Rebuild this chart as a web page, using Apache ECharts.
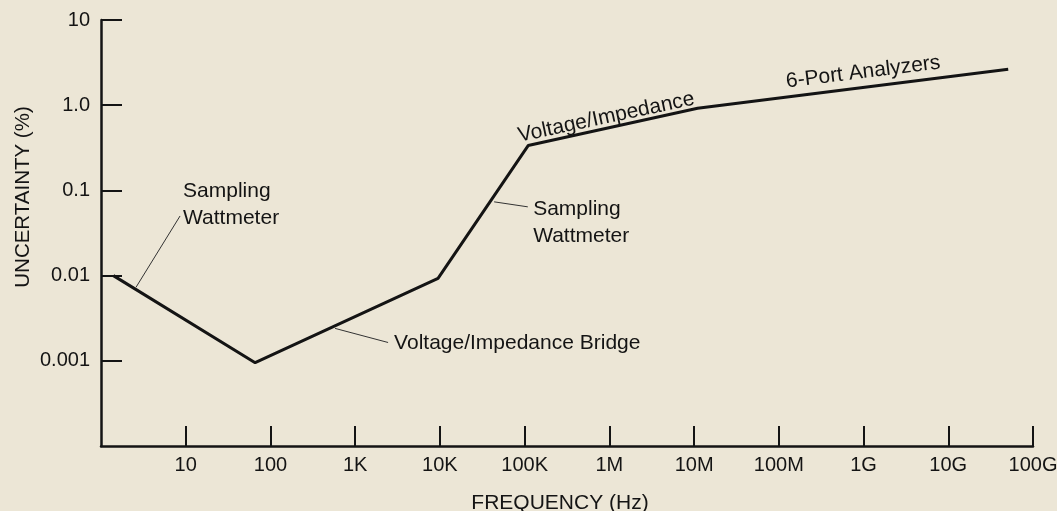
<!DOCTYPE html>
<html>
<head>
<meta charset="utf-8">
<title>Uncertainty vs Frequency</title>
<script src="https://cdn.jsdelivr.net/npm/echarts@6/dist/echarts.min.js"></script>
<style>
  html, body { margin: 0; padding: 0; background: #ece6d6; }
  #chart { width: 1057px; height: 511px; }
</style>
</head>
<body>
<div id="chart"></div>
<script>
// curve break points (Hz, %)
var freq = [1.4, 66, 9500, 1.1e5, 1.1e7, 5.1e10];
var uncertainty = [0.01, 0.00095, 0.0093, 0.336, 0.92, 2.64];

// tick labels
var xTickValues = [10, 100, 1e3, 1e4, 1e5, 1e6, 1e7, 1e8, 1e9, 1e10, 1e11];
var xTickLabels = ['10', '100', '1K', '10K', '100K', '1M', '10M', '100M', '1G', '10G', '100G'];
var yTickValues = [0.001, 0.01, 0.1, 1, 10];
var yTickLabels = ['0.001', '0.01', '0.1', '1.0', '10'];

// annotation texts
var noteTexts = ['Sampling\nWattmeter', 'Voltage/Impedance Bridge', 'Sampling\nWattmeter', 'Voltage/Impedance', '6-Port Analyzers'];

var ink = '#141414';
var font = '"Liberation Sans", Arial, Helvetica, sans-serif';

function lookup(values, labels, v) {
  for (var i = 0; i < values.length; i++) {
    if (Math.abs(Math.log10(v) - Math.log10(values[i])) < 1e-6) return labels[i];
  }
  return '';
}

var chart = echarts.init(document.getElementById('chart'));

var option = {
  animation: false,
  backgroundColor: '#ece6d6',
  grid: { left: 101, right: 24, top: 20, bottom: 65, outerBoundsMode: 'none' },
  xAxis: {
    type: 'log',
    logBase: 10,
    min: 1,
    max: 1e11,
    interval: 1,
    name: 'FREQUENCY (Hz)',
    nameLocation: 'middle',
    nameGap: 47,
    nameTextStyle: { color: ink, fontSize: 21, fontFamily: font, padding: [0, 14, 0, 0] },
    axisLine: { lineStyle: { color: ink, width: 2.5 } },
    axisTick: { inside: true, length: 20, lineStyle: { color: ink, width: 2 } },
    axisLabel: {
      color: ink, fontSize: 20, fontFamily: font, margin: 9,
      interval: 0,
      showMinLabel: false, showMaxLabel: true,
      formatter: function (v) { return lookup(xTickValues, xTickLabels, v); }
    },
    splitLine: { show: false }
  },
  yAxis: {
    type: 'log',
    logBase: 10,
    min: 0.0001,
    max: 10,
    interval: 1,
    axisLine: { show: true, lineStyle: { color: ink, width: 2.5 } },
    axisTick: { show: true, inside: true, length: 21, lineStyle: { color: ink, width: 2 } },
    axisLabel: {
      color: ink, fontSize: 20, fontFamily: font, margin: 11,
      showMinLabel: false,
      formatter: function (v) { return lookup(yTickValues, yTickLabels, v); }
    },
    splitLine: { show: false }
  },
  graphic: [{
    type: 'text',
    x: 23,
    y: 197,
    rotation: Math.PI / 2,
    style: {
      text: 'UNCERTAINTY (%)',
      fill: ink,
      font: '20.5px ' + font,
      align: 'center',
      verticalAlign: 'middle'
    }
  }],
  series: [
    {
      name: 'uncertainty',
      type: 'line',
      data: freq.map(function (f, i) { return [f, uncertainty[i]]; }),
      showSymbol: false,
      lineStyle: { color: ink, width: 3 },
      silent: true
    },
    {
      name: 'notes',
      type: 'scatter',
      symbolSize: 0,
      silent: true,
      itemStyle: { opacity: 1, color: ink },
      label: {
        show: true,
        color: ink,
        opacity: 1,
        fontSize: 21,
        fontFamily: font,
        lineHeight: 27,
        formatter: function (p) { return p.data.text; }
      },
      data: [
        { value: [9.3, 0.0686], text: noteTexts[0], label: { position: 'right', distance: 0, align: 'left', verticalAlign: 'middle' } },
        { value: [2880, 0.0016], text: noteTexts[1], label: { position: 'right', distance: 0, align: 'left', verticalAlign: 'middle' } },
        { value: [1.26e5, 0.042], text: noteTexts[2], label: { position: 'right', distance: 0, align: 'left', verticalAlign: 'middle' } },
        { value: [9.17e5, 0.718], text: noteTexts[3], label: { position: 'inside', align: 'center', verticalAlign: 'middle', rotate: 12 } },
        { value: [9.9e8, 2.44], text: noteTexts[4], label: { position: 'inside', align: 'center', verticalAlign: 'middle', rotate: 7 } }
      ],
      markLine: {
        silent: true,
        symbol: ['none', 'none'],
        label: { show: false },
        lineStyle: { color: '#333', width: 1, type: 'solid', opacity: 1 },
        data: [
          [{ coord: [2.59, 0.0073] }, { coord: [8.57, 0.0501] }],
          [{ coord: [43650, 0.0734] }, { coord: [1.09e5, 0.0641] }],
          [{ coord: [579, 0.0024] }, { coord: [2445, 0.00164] }]
        ]
      }
    }
  ]
};

chart.setOption(option);
</script>
</body>
</html>
